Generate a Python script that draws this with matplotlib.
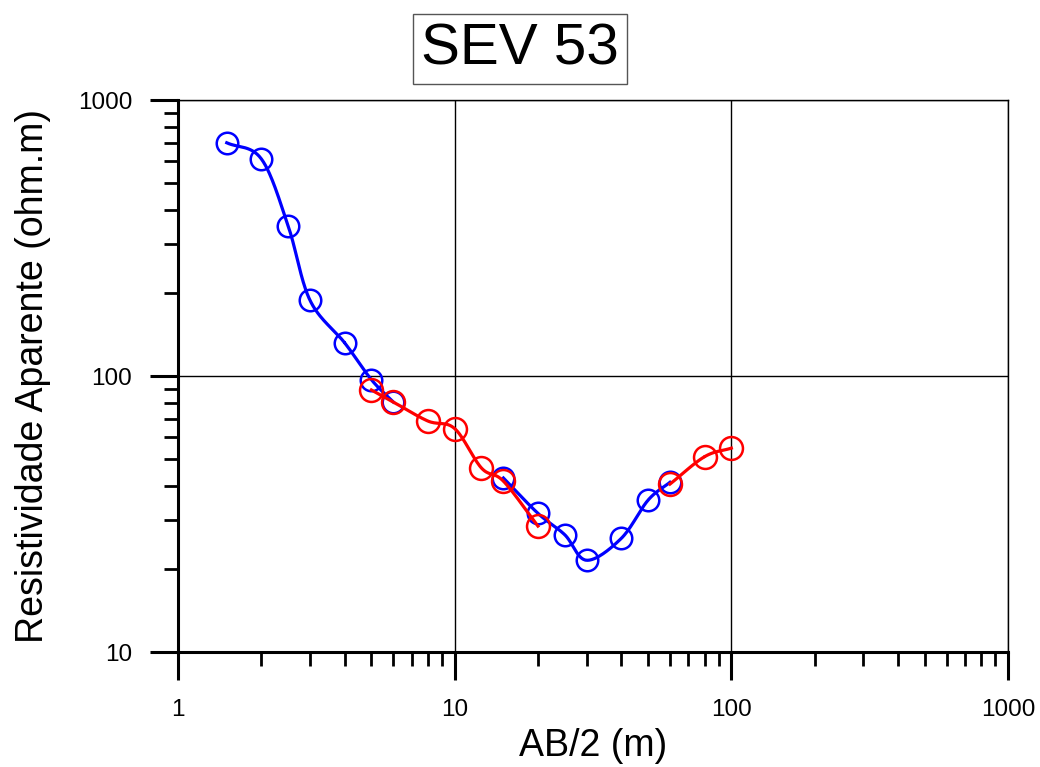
import numpy as np
import matplotlib.pyplot as plt

plt.rcParams['font.family'] = ['Liberation Sans', 'DejaVu Sans']
plt.rcParams['xtick.labelsize'] = 17.5
plt.rcParams['ytick.labelsize'] = 17.5

# field readings (blue) and model readings (red)
blue_ab2 = [1.5, 2, 2.5, 3, 4, 5, 6, 15, 20, 25, 30, 40, 50, 60]
blue_rho = [700, 612, 350, 188, 132, 97, 80.5, 42.7, 31.8, 26.6, 21.5, 25.8, 35.5, 41.2]
red_ab2 = [5, 6, 8, 10, 12.5, 15, 20, 60, 80, 100]
red_rho = [89, 80.5, 68.7, 64.5, 46.4, 41.6, 28.6, 40.6, 51, 54.8]

# which points the drawn curves run through
blue_curves = [(0, 7), (7, 14)]
red_curves = [(0, 7), (7, 10)]


def smooth(x, y, n=30):
    # catmull-rom through the points, in log-log space
    lx = np.log10(x)
    ly = np.log10(y)
    px = np.concatenate([[2*lx[0]-lx[1]], lx, [2*lx[-1]-lx[-2]]])
    py = np.concatenate([[2*ly[0]-ly[1]], ly, [2*ly[-1]-ly[-2]]])
    ox, oy = [], []
    t = np.linspace(0, 1, n)
    for i in range(1, len(px)-2):
        for p, o in ((px, ox), (py, oy)):
            p0, p1, p2, p3 = p[i-1], p[i], p[i+1], p[i+2]
            o.extend(0.5*((2*p1) + (-p0+p2)*t + (2*p0-5*p1+4*p2-p3)*t**2
                          + (-p0+3*p1-3*p2+p3)*t**3))
    return 10**np.array(ox), 10**np.array(oy)


fig = plt.figure(figsize=(10.4, 7.67), dpi=100)
ax = fig.add_axes([0.1712, 0.1499, 0.798, 0.7197])

ax.set_xscale('log')
ax.set_yscale('log')
ax.set_xlim(1, 1000)
ax.set_ylim(10, 1000)

for a, b in blue_curves:
    sx, sy = smooth(blue_ab2[a:b], blue_rho[a:b])
    ax.plot(sx, sy, color='#0000ff', lw=2.3, zorder=3)
ax.plot(blue_ab2, blue_rho, 'o', mfc='none', mec='#0000ff', ms=15.5, mew=1.8, zorder=3)

for a, b in red_curves:
    sx, sy = smooth(red_ab2[a:b], red_rho[a:b])
    ax.plot(sx, sy, color='#ff0000', lw=2.3, zorder=4)
ax.plot(red_ab2, red_rho, 'o', mfc='none', mec='#ff0000', ms=16.5, mew=1.8, zorder=4)

ax.grid(True, which='major', color='black', lw=1.0)
for s in ['left', 'bottom']:
    ax.spines[s].set_linewidth(2.2)
for s in ['top', 'right']:
    ax.spines[s].set_linewidth(1.0)

ax.set_xticks([1, 10, 100, 1000])
ax.set_xticklabels(['1', '10', '100', '1000'])
ax.set_yticks([10, 100, 1000])
ax.set_yticklabels(['10', '100', '1000'])
ax.tick_params(which='major', direction='out', length=20, width=2.2, pad=14)
ax.tick_params(which='minor', direction='out', length=10, width=2.0)
ax.tick_params(axis='y', which='major', pad=13)

ax.set_xlabel('AB/2 (m)', fontsize=27, labelpad=5)
ax.set_ylabel('Resistividade Aparente (ohm.m)', fontsize=27, labelpad=19)

fig.text(0.5, 0.936, 'SEV 53', fontsize=42, ha='center', va='center',
         bbox=dict(boxstyle='square,pad=0.14', fc='white', ec='#555555', lw=1.0))

fig.savefig('out.png', dpi=100)
